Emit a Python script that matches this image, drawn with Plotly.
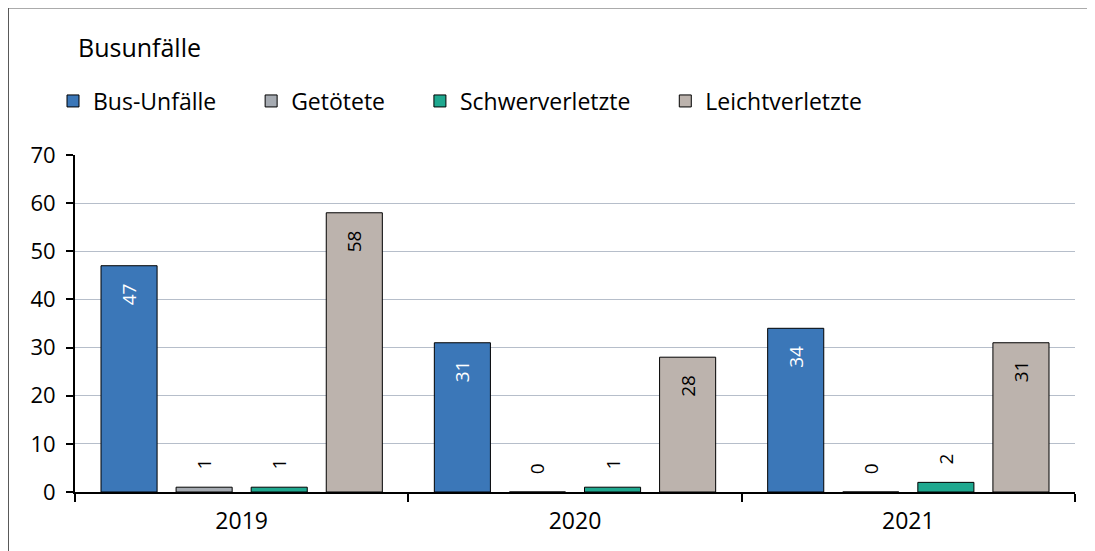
import plotly.graph_objects as go

years = ["2019", "2020", "2021"]
series_names = ["Bus-Unfälle", "Getötete", "Schwerverletzte", "Leichtverletzte"]
bus_unfaelle = [47, 31, 34]
getoetete = [1, 0, 0]
schwerverletzte = [1, 1, 2]
leichtverletzte = [58, 28, 31]
y_ticks = [0, 10, 20, 30, 40, 50, 60, 70]

colors = ["#3B77B8", "#A6ABB2", "#1FA88F", "#BCB3AD"]
text_colors = ["white", "black", "black", "black"]
FONT = "Open Sans"
NB = "\u00a0"

W, H = 1087, 543
L, R, T, B = 67, 20, 147, 59
pw, ph = W - L - R, H - T - B

def px_x(p):
    return (p - L) / pw

def px_y(p):
    return (H - B - p) / ph

fig = go.Figure()
for name, vals, c, tc in zip(series_names, [bus_unfaelle, getoetete, schwerverletzte, leichtverletzte], colors, text_colors):
    inside = [v >= 10 for v in vals]
    pos = ["inside" if i else "outside" for i in inside]
    txt = [(str(v) + NB * 3) if i else (NB * 3 + str(v)) for v, i in zip(vals, inside)]
    fig.add_trace(go.Bar(
        name=name + NB * 5, x=years, y=vals,
        marker=dict(color=c, line=dict(color="black", width=1)),
        text=txt, textposition=pos, textangle=-90,
        insidetextanchor="end",
        insidetextfont=dict(color=tc, size=19, family=FONT),
        outsidetextfont=dict(color="black", size=19, family=FONT),
        cliponaxis=False,
    ))

fig.update_layout(
    width=W, height=H, margin=dict(l=L, r=R, t=T, b=B, autoexpand=False),
    barmode="group", bargap=0.099, bargroupgap=0.253,
    plot_bgcolor="white", paper_bgcolor="white",
    font=dict(family=FONT, size=22, color="black"),
    title=dict(text="Busunfälle", x=70 / W, xanchor="left",
               y=1 - 40 / H, yanchor="middle", font=dict(size=25, family=FONT, color="black")),
    legend=dict(orientation="h", x=px_x(45), xanchor="left", y=px_y(93), yanchor="middle",
                font=dict(size=23, family=FONT), itemwidth=30, traceorder="normal",
                bgcolor="rgba(0,0,0,0)"),
    showlegend=True,
)
fig.update_yaxes(range=[0, 70], tickvals=y_ticks, showgrid=True, gridcolor="#B6BECA", gridwidth=1,
                 showline=True, linecolor="black", linewidth=2, ticks="outside", ticklen=7,
                 tickcolor="black", tickwidth=2, zeroline=False, tickfont=dict(size=22, family=FONT),
                 ticklabelstandoff=6)
fig.update_xaxes(type="category", tickson="boundaries", ticks="outside", ticklen=8, tickcolor="black",
                 tickwidth=2, showline=True, linecolor="black", linewidth=2, showgrid=False,
                 tickfont=dict(size=23, family=FONT), ticklabelstandoff=7)

fig.add_shape(type="rect", xref="paper", yref="paper",
              x0=px_x(0.5), x1=px_x(W + 20), y0=px_y(H + 20), y1=px_y(0),
              line=dict(color="#595959", width=1), fillcolor="rgba(0,0,0,0)", layer="below")

fig.write_html("out.html")
